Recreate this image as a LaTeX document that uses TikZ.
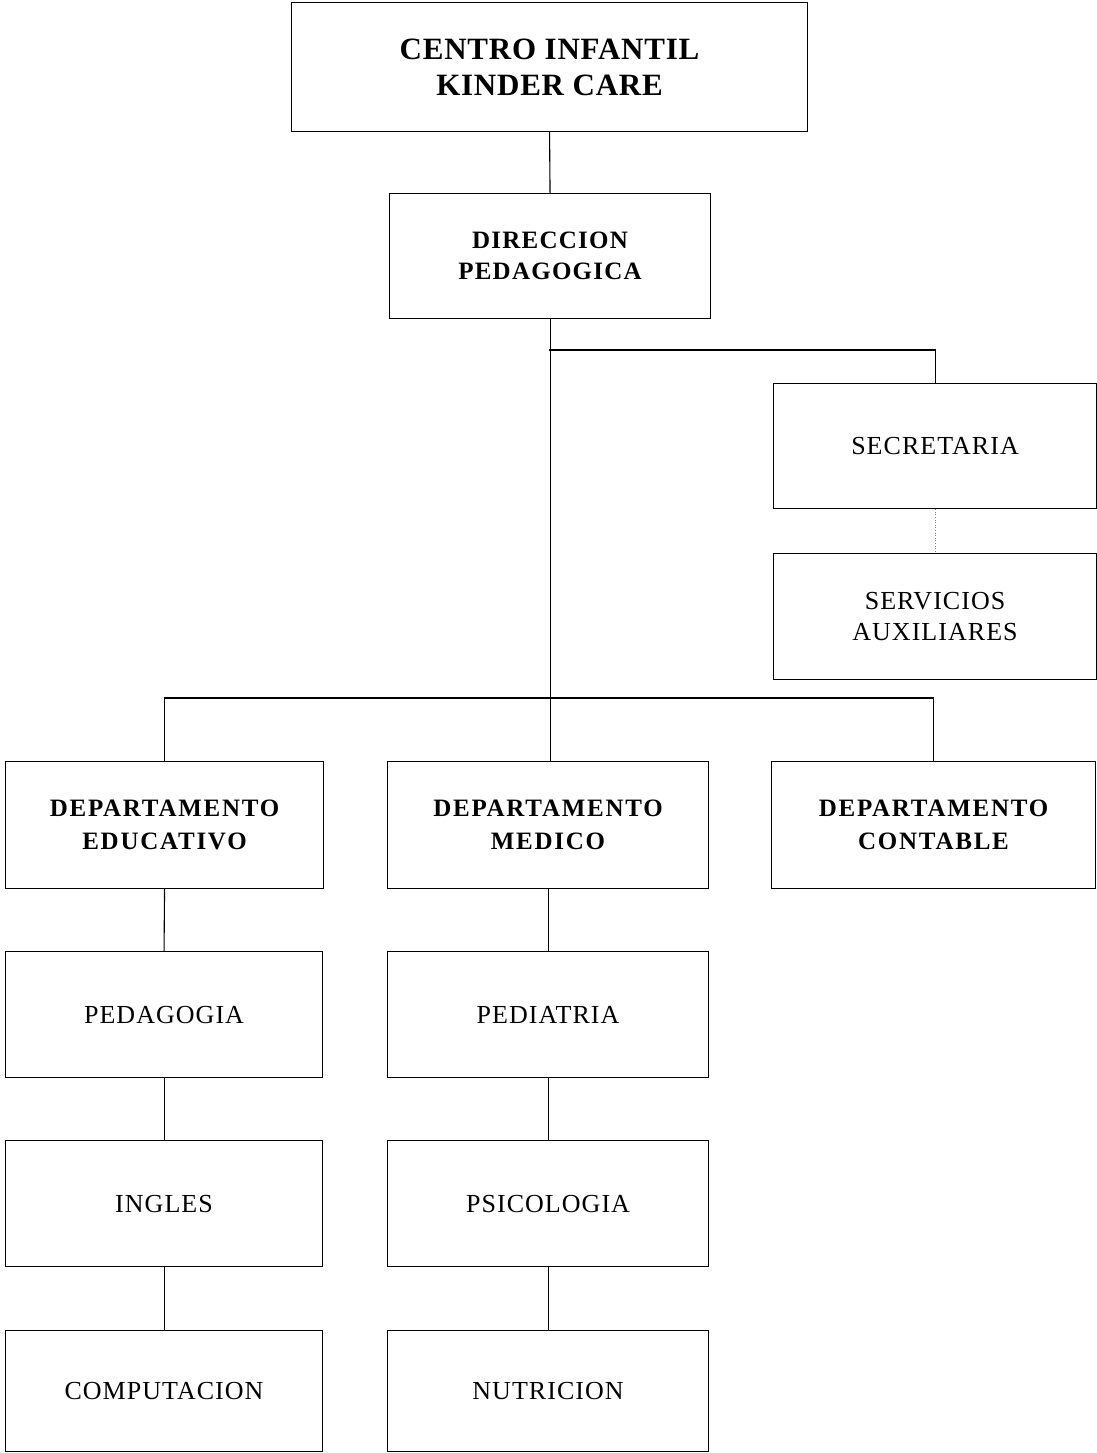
\documentclass[tikz,border=0pt]{standalone}
\usepackage{fontspec}
\setmainfont{Liberation Serif}
\newfontfamily\titlesp[LetterSpace=2.5]{Liberation Serif}
\newfontfamily\dirsp[LetterSpace=5]{Liberation Serif}
\newfontfamily\deptsp[LetterSpace=7]{Liberation Serif}
\newfontfamily\plainsp[LetterSpace=4]{Liberation Serif}
\begin{document}
\begin{tikzpicture}[x=1pt,y=-1pt,
  box/.style={draw, line width=1.1pt, inner sep=0pt, align=center, anchor=north west},
  title/.style={font=\titlesp\fontsize{31}{36}\selectfont\bfseries},
  dirlbl/.style={font=\dirsp\fontsize{25}{31}\selectfont\bfseries},
  boldlbl/.style={font=\deptsp\fontsize{25}{33}\selectfont\bfseries},
  plainlbl/.style={font=\plainsp\fontsize{26}{31}\selectfont},
  link/.style={line width=1.1pt}]
\useasboundingbox (0,0) rectangle (1097,1453);
\node[box, title, minimum width=516pt, minimum height=129pt] (centro) at (291,2) {CENTRO INFANTIL\\KINDER CARE};
\node[box, dirlbl, minimum width=321pt, minimum height=125pt] (dir) at (389,193) {DIRECCION\\PEDAGOGICA};
\node[box, plainlbl, minimum width=323pt, minimum height=125pt] (sec) at (773,383) {SECRETARIA};
\node[box, plainlbl, minimum width=323pt, minimum height=126pt] (serv) at (773,553) {SERVICIOS\\AUXILIARES};
\node[box, boldlbl, minimum width=318pt, minimum height=127pt] (dedu) at (5,761) {DEPARTAMENTO\\EDUCATIVO};
\node[box, boldlbl, minimum width=321pt, minimum height=127pt] (dmed) at (387,761) {DEPARTAMENTO\\MEDICO};
\node[box, boldlbl, minimum width=324pt, minimum height=127pt] (dcon) at (771,761) {DEPARTAMENTO\\CONTABLE};
\node[box, plainlbl, minimum width=317pt, minimum height=126pt] (ped) at (5,951) {PEDAGOGIA};
\node[box, plainlbl, minimum width=321pt, minimum height=126pt] (pedi) at (387,951) {PEDIATRIA};
\node[box, plainlbl, minimum width=317pt, minimum height=126pt] (ing) at (5,1140) {INGLES};
\node[box, plainlbl, minimum width=321pt, minimum height=126pt] (psi) at (387,1140) {PSICOLOGIA};
\node[box, plainlbl, minimum width=317pt, minimum height=121pt] (comp) at (5,1330) {COMPUTACION};
\node[box, plainlbl, minimum width=321pt, minimum height=121pt] (nut) at (387,1330) {NUTRICION};
\coordinate (j1) at (549,350);
\coordinate (j2) at (549,698);
\draw[link] (centro.south) -- (dir.north);
\draw[link] (dir.south) -- (dir.south |- dmed.north);
\draw[link] (j1) -| (sec.north);
\draw[dotted, line width=0.6pt, gray] (sec.south) -- (serv.north);
\draw[link] (dedu.north) |- (j2) -| (dcon.north);
\draw[link] (dedu.south) -- (ped.north);
\draw[link] (ped.south) -- (ing.north);
\draw[link] (ing.south) -- (comp.north);
\draw[link] (dmed.south) -- (pedi.north);
\draw[link] (pedi.south) -- (psi.north);
\draw[link] (psi.south) -- (nut.north);
\end{tikzpicture}
\end{document}
